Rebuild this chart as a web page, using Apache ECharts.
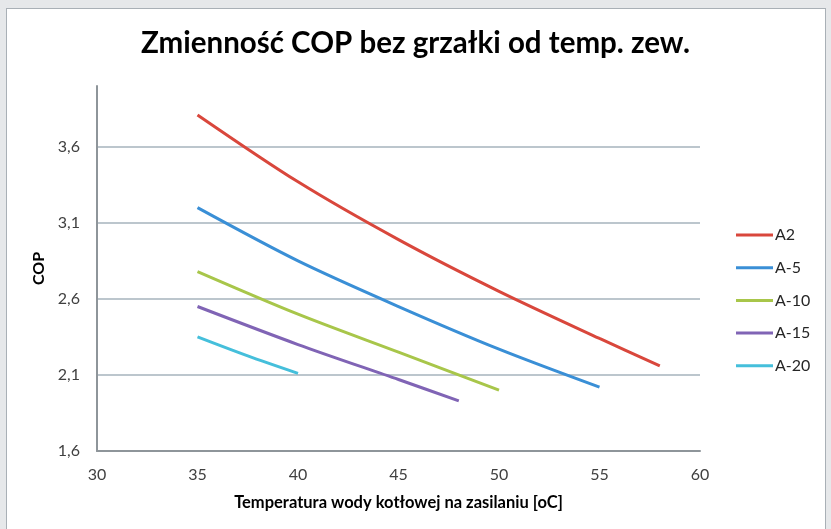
<!DOCTYPE html>
<html>
<head>
<meta charset="utf-8">
<script src="https://cdn.jsdelivr.net/npm/echarts@6/dist/echarts.min.js"></script>
<style>
  html, body { margin: 0; padding: 0; background: #e6e8ea; }
  #panel { position: absolute; left: 6px; top: 8px; width: 820px; height: 530px; background: #ffffff; border: 1px solid #a9b0b6; box-sizing: border-box; }
  #chart { position: absolute; left: 0; top: 0; width: 831px; height: 529px; }
</style>
</head>
<body>
<div id="panel"></div>
<div id="chart"></div>
<script>
// Data
const titleText = 'Zmienność COP bez grzałki od temp. zew.';
const xAxisTitle = 'Temperatura wody kotłowej na zasilaniu [oC]';
const yAxisTitle = 'COP';
const seriesNames = ['A2', 'A-5', 'A-10', 'A-15', 'A-20'];
const seriesColors = ['#d9473c', '#3a8fd6', '#a8c64a', '#8064b5', '#45bfdb'];

const a2X   = [35, 40, 45, 50, 55, 58];
const a2Y   = [3.81, 3.37, 2.99, 2.65, 2.34, 2.16];
const a5X   = [35, 40, 45, 50, 55];
const a5Y   = [3.20, 2.85, 2.55, 2.27, 2.02];
const a10X  = [35, 40, 45, 50];
const a10Y  = [2.78, 2.50, 2.25, 2.00];
const a15X  = [35, 40, 45, 48];
const a15Y  = [2.55, 2.30, 2.07, 1.93];
const a20X  = [35, 37.5, 40];
const a20Y  = [2.35, 2.225, 2.11];

const xMin = 30, xMax = 60, xStep = 5;
const yMin = 1.6, yMax = 4.0, yStep = 0.5;

const xs = [a2X, a5X, a10X, a15X, a20X];
const ys = [a2Y, a5Y, a10Y, a15Y, a20Y];

const font = 'Lato, "Open Sans", sans-serif';
const gridColor = '#a6b3bc';

const chart = echarts.init(document.getElementById('chart'));
const series = seriesNames.map((name, i) => ({
  name: name,
  type: 'line',
  smooth: 0.3,
  showSymbol: false,
  symbol: 'none',
  data: xs[i].map((x, j) => [x, ys[i][j]]),
  lineStyle: { color: seriesColors[i], width: 3 },
  itemStyle: { color: seriesColors[i] },
  z: 10 - i
}));

chart.setOption({
  backgroundColor: 'transparent',
  animation: false,
  title: {
    text: titleText,
    left: 'center',
    top: 23,
    textStyle: { fontFamily: font, fontWeight: 'bold', fontSize: 29.5, color: '#000000' }
  },
  legend: {
    orient: 'vertical',
    left: 731,
    top: 221,
    icon: 'rect',
    itemWidth: 37,
    itemHeight: 3,
    itemGap: 14.7,
    data: seriesNames,
    textStyle: { fontFamily: font, fontSize: 16, color: '#262626', lineHeight: 18, padding: [0, 0, 0, -3] }
  },
  grid: { left: 97, right: 131, top: 86, bottom: 78 },
  xAxis: {
    type: 'value',
    min: xMin, max: xMax, interval: xStep,
    name: xAxisTitle,
    nameLocation: 'middle',
    nameGap: 43,
    nameTextStyle: { fontFamily: font, fontWeight: 'bold', fontSize: 16.5, color: '#000000' },
    axisLine: { show: true, onZero: false, lineStyle: { color: '#8e959a', width: 2 } },
    axisTick: { show: false },
    splitLine: { show: false },
    axisLabel: { margin: 16, fontFamily: font, fontSize: 16, color: '#404040' }
  },
  yAxis: {
    type: 'value',
    min: yMin, max: yMax, interval: yStep,
    name: yAxisTitle,
    nameLocation: 'middle',
    nameGap: 48,
    nameRotate: 90,
    nameTextStyle: { fontFamily: font, fontWeight: 'bold', fontSize: 16, color: '#000000' },
    axisLine: { show: true, lineStyle: { color: '#8e959a', width: 2 } },
    axisTick: { show: false },
    splitLine: { show: true, lineStyle: { width: 1.5, color: [gridColor, gridColor, gridColor, gridColor, gridColor, 'rgba(0,0,0,0)'] } },
    axisLabel: {
      margin: 17, fontFamily: font, fontSize: 16, color: '#404040',
      showMaxLabel: false,
      formatter: v => (Math.abs(v - yMax) < 1e-9 ? '' : v.toFixed(1).replace('.', ','))
    }
  },
  series: series
});
</script>
</body>
</html>
